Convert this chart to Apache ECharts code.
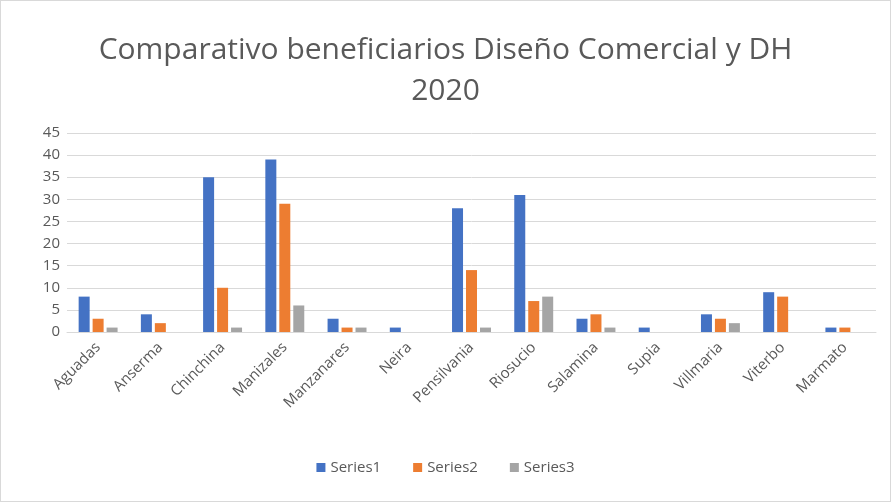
<!DOCTYPE html>
<html>
<head>
<meta charset="utf-8">
<script src="https://cdn.jsdelivr.net/npm/echarts@6/dist/echarts.min.js"></script>
<style>
  html, body { margin: 0; padding: 0; background: #fff; }
  #chart { width: 891px; height: 502px; box-sizing: border-box; border: 1px solid #d9d9d9; }
</style>
</head>
<body>
<div id="chart"></div>
<script>
// municipios
var categories = ['Aguadas', 'Anserma', 'Chinchina', 'Manizales', 'Manzanares', 'Neira',
  'Pensilvania', 'Riosucio', 'Salamina', 'Supia', 'Villmaria', 'Viterbo', 'Marmato'];
var series1 = [8, 4, 35, 39, 3, 1, 28, 31, 3, 1, 4, 9, 1];
var series2 = [3, 2, 10, 29, 1, 0, 14, 7, 4, 0, 3, 8, 1];
var series3 = [1, 0, 1, 6, 1, 0, 1, 8, 1, 0, 2, 0, 0];
var yTicks = [0, 5, 10, 15, 20, 25, 30, 35, 40, 45];

var font = '"Open Sans", "Liberation Sans", sans-serif';
var chart = echarts.init(document.getElementById('chart'));

function bar(name, data, color) {
  return {
    name: name,
    type: 'bar',
    data: data,
    barWidth: 11,
    barGap: '27%',
    itemStyle: { color: color }
  };
}

var option = {
  animation: false,
  title: {
    text: 'Comparativo beneficiarios Diseño Comercial y DH\n2020',
    left: 'center',
    top: 24,
    textStyle: {
      color: '#595959',
      fontFamily: font,
      fontWeight: 'normal',
      fontSize: 30,
      lineHeight: 41
    }
  },
  legend: {
    bottom: 21,
    left: 'center',
    icon: 'rect',
    itemWidth: 9,
    itemHeight: 9,
    itemGap: 32,
    textStyle: { color: '#595959', fontFamily: font, fontSize: 15 },
    data: ['Series1', 'Series2', 'Series3']
  },
  grid: { left: 66, right: 14, top: 132, bottom: 169 },
  xAxis: {
    type: 'category',
    data: categories,
    axisLine: { lineStyle: { color: '#d9d9d9' } },
    axisTick: { show: false },
    axisLabel: {
      rotate: 45,
      interval: 0,
      color: '#595959',
      fontFamily: font,
      fontSize: 15,
      margin: 13
    }
  },
  yAxis: {
    type: 'value',
    min: yTicks[0],
    max: yTicks[yTicks.length - 1],
    interval: 5,
    axisLine: { show: false },
    axisTick: { show: false },
    splitLine: { lineStyle: { color: '#d9d9d9' } },
    axisLabel: { color: '#595959', fontFamily: font, fontSize: 15, margin: 7 }
  },
  series: [
    bar('Series1', series1, '#4472C4'),
    bar('Series2', series2, '#ED7D31'),
    bar('Series3', series3, '#A5A5A5')
  ]
};

chart.setOption(option);
</script>
</body>
</html>
